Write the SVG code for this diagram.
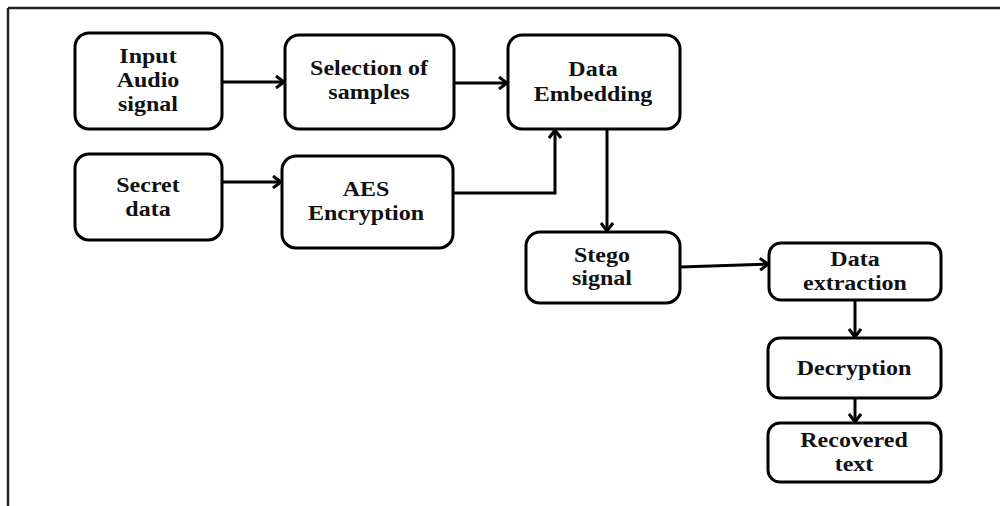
<svg xmlns="http://www.w3.org/2000/svg" width="1000" height="506" viewBox="0 0 1000 506">
<style>
.box{fill:#fff;stroke:#000;stroke-width:3}
.t{font-family:"Liberation Serif","Times New Roman",serif;font-weight:bold;font-size:20px;fill:#111;text-anchor:middle}
.c{fill:none;stroke:#000;stroke-width:3}
</style>
<defs>
<marker id="ah" markerWidth="14" markerHeight="14" refX="11" refY="7" orient="auto" markerUnits="userSpaceOnUse">
<path d="M3,1 L11,7 L3,13" fill="none" stroke="#000" stroke-width="3"/>
</marker>
</defs>
<rect x="0" y="0" width="1000" height="506" fill="#fff"/>
<g id="frame">
<line x1="8" y1="8" x2="1000" y2="8" stroke="#222" stroke-width="2.5"/>
<line x1="8" y1="8" x2="8" y2="506" stroke="#222" stroke-width="2.5"/>
</g>
<g id="connectors">
<line class="c" x1="222" y1="82" x2="284" y2="82" marker-end="url(#ah)"/>
<line class="c" x1="454" y1="83" x2="507" y2="83" marker-end="url(#ah)"/>
<line class="c" x1="222" y1="182" x2="281" y2="182" marker-end="url(#ah)"/>
<polyline class="c" points="453,193 555,193 555,130" marker-end="url(#ah)"/>
<line class="c" x1="607" y1="129" x2="607" y2="231" marker-end="url(#ah)"/>
<line class="c" x1="680" y1="267" x2="768" y2="264" marker-end="url(#ah)"/>
<line class="c" x1="855" y1="300" x2="855" y2="337" marker-end="url(#ah)"/>
<line class="c" x1="855" y1="398" x2="855" y2="422" marker-end="url(#ah)"/>
</g>
<g id="input-audio">
<rect class="box" x="75" y="33" width="147" height="96" rx="14"/>
<text class="t" transform="translate(148,63) scale(1.2,1)">Input</text>
<text class="t" transform="translate(148,87) scale(1.2,1)">Audio</text>
<text class="t" transform="translate(148,111) scale(1.2,1)">signal</text>
</g>
<g id="selection">
<rect class="box" x="285" y="35" width="169" height="94" rx="14"/>
<text class="t" transform="translate(369,75) scale(1.2,1)">Selection of</text>
<text class="t" transform="translate(369,99) scale(1.2,1)">samples</text>
</g>
<g id="embedding">
<rect class="box" x="508" y="35" width="172" height="94" rx="14"/>
<text class="t" transform="translate(593,76) scale(1.2,1)">Data</text>
<text class="t" transform="translate(593,101) scale(1.2,1)">Embedding</text>
</g>
<g id="secret">
<rect class="box" x="75" y="154" width="147" height="86" rx="14"/>
<text class="t" transform="translate(148,192) scale(1.2,1)">Secret</text>
<text class="t" transform="translate(148,216) scale(1.2,1)">data</text>
</g>
<g id="aes">
<rect class="box" x="282" y="156" width="171" height="92" rx="14"/>
<text class="t" transform="translate(366,196) scale(1.2,1)">AES</text>
<text class="t" transform="translate(366,220) scale(1.2,1)">Encryption</text>
</g>
<g id="stego">
<rect class="box" x="526" y="232" width="154" height="71" rx="14"/>
<text class="t" transform="translate(602,262) scale(1.2,1)">Stego</text>
<text class="t" transform="translate(602,285) scale(1.2,1)">signal</text>
</g>
<g id="extraction">
<rect class="box" x="769" y="243" width="172" height="57" rx="12"/>
<text class="t" transform="translate(855,266) scale(1.2,1)">Data</text>
<text class="t" transform="translate(855,290) scale(1.2,1)">extraction</text>
</g>
<g id="decryption">
<rect class="box" x="768" y="338" width="173" height="60" rx="12"/>
<text class="t" transform="translate(854,375) scale(1.2,1)">Decryption</text>
</g>
<g id="recovered">
<rect class="box" x="768" y="423" width="173" height="59" rx="12"/>
<text class="t" transform="translate(854,447) scale(1.2,1)">Recovered</text>
<text class="t" transform="translate(854,471) scale(1.2,1)">text</text>
</g>
</svg>
